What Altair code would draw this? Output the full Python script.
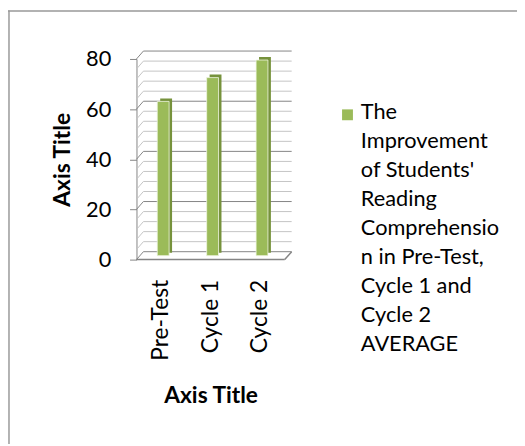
import altair as alt
import pandas as pd

categories = ["Pre-Test", "Cycle 1", "Cycle 2"]
values = [61.5, 71, 78]
y_ticks = [0, 20, 40, 60, 80]
grid_values = list(range(0, 81, 4))
legend_lines = ["The", "Improvement", "of Students'", "Reading", "Comprehensio",
                "n in Pre-Test,", "Cycle 1 and", "Cycle 2", "AVERAGE"]

FONT = "Lato"
W, H = 150, 203
DX, DY = 7, 8
GREEN = "#9BBB59"
DARK = "#76923C"
GRID = "#858585"
MINOR = "#c4c4c4"

df = pd.DataFrame({"cat": categories, "v": values})
gdf = pd.DataFrame({"v": grid_values})
one = pd.DataFrame({"v": [0]})

yscale = alt.Scale(domain=[0, 80], nice=False, zero=True)
xenc = alt.X("cat:N", sort=categories, title="Axis Title",
             axis=alt.Axis(labelAngle=270, labelAlign="right", labelBaseline="middle",
                           labelPadding=20, domain=False, ticks=False,
                           labelFontSize=23, labelFont=FONT, labelColor="#000",
                           titleFont=FONT, titleFontSize=23, titleFontWeight="bold",
                           titleColor="#000", titlePadding=25))
yaxis = alt.Axis(values=y_ticks, grid=False, tickSize=7, tickColor=GRID,
                 domainColor=GRID, labelFontSize=22, labelFont=FONT,
                 labelColor="#000", labelPadding=19,
                 titleFont=FONT, titleFontSize=23, titleFontWeight="bold",
                 titleColor="#000", titlePadding=11)
yenc = alt.Y("v:Q", scale=yscale, title="Axis Title", axis=yaxis)

gcolor = alt.condition("datum.v % 20 === 0", alt.value(GRID), alt.value(MINOR))

grid_h = alt.Chart(gdf).mark_rule(yOffset=-DY, strokeWidth=1).encode(
    x=alt.value(DX), x2=alt.value(W + DX), y=yenc, color=gcolor)
grid_d = alt.Chart(gdf).mark_rule(y2Offset=-DY, strokeWidth=1).encode(
    x=alt.value(0), x2=alt.value(DX), y=yenc, y2="v:Q", color=gcolor)
floor_f = alt.Chart(one).mark_rule(color=GRID, strokeWidth=1.5).encode(
    x=alt.value(0), x2=alt.value(W), y=yenc)
floor_r = alt.Chart(one).mark_rule(color=GRID, strokeWidth=1.5, y2Offset=-DY).encode(
    x=alt.value(W), x2=alt.value(W + DX), y=yenc, y2="v:Q")

back = alt.Chart(df).mark_bar(size=12, color=DARK, xOffset=5, yOffset=-7, y2Offset=-7).encode(
    x=xenc, y=yenc)
front = alt.Chart(df).mark_bar(size=12, color=GREEN, xOffset=2, yOffset=-4, y2Offset=-4,
                               stroke="#eef5e0", strokeWidth=0.8).encode(x=xenc, y=yenc)

border_l = alt.Chart(one).mark_rule(color="#999999", strokeWidth=1.5).encode(
    x=alt.value(-129), y=alt.value(-49), y2=alt.value(400))
border_t = alt.Chart(one).mark_rule(color="#999999", strokeWidth=1.5).encode(
    x=alt.value(-130), x2=alt.value(400), y=alt.value(-48.5))

leg_sym = alt.Chart(one).mark_point(shape="square", filled=True, size=121, color=GREEN, opacity=1).encode(
    x=alt.value(213.5), y=alt.value(56.5))
leg_txt = alt.Chart(one).mark_text(align="left", baseline="alphabetic", fontSize=22, font=FONT,
                                   lineHeight=29.3, color="#000").encode(
    x=alt.value(227), y=alt.value(61), text=alt.value(legend_lines))

chart = alt.layer(grid_h, grid_d, floor_f, floor_r, back, front,
                  border_l, border_t, leg_sym, leg_txt).properties(
    width=W, height=H,
    autosize=alt.AutoSizeParams(type="none"),
    padding={"left": 130, "top": 49, "right": 235, "bottom": 184},
    background="white",
).configure_view(stroke=None)

chart.save("out.html", embed_options={"renderer": "svg", "actions": False})
